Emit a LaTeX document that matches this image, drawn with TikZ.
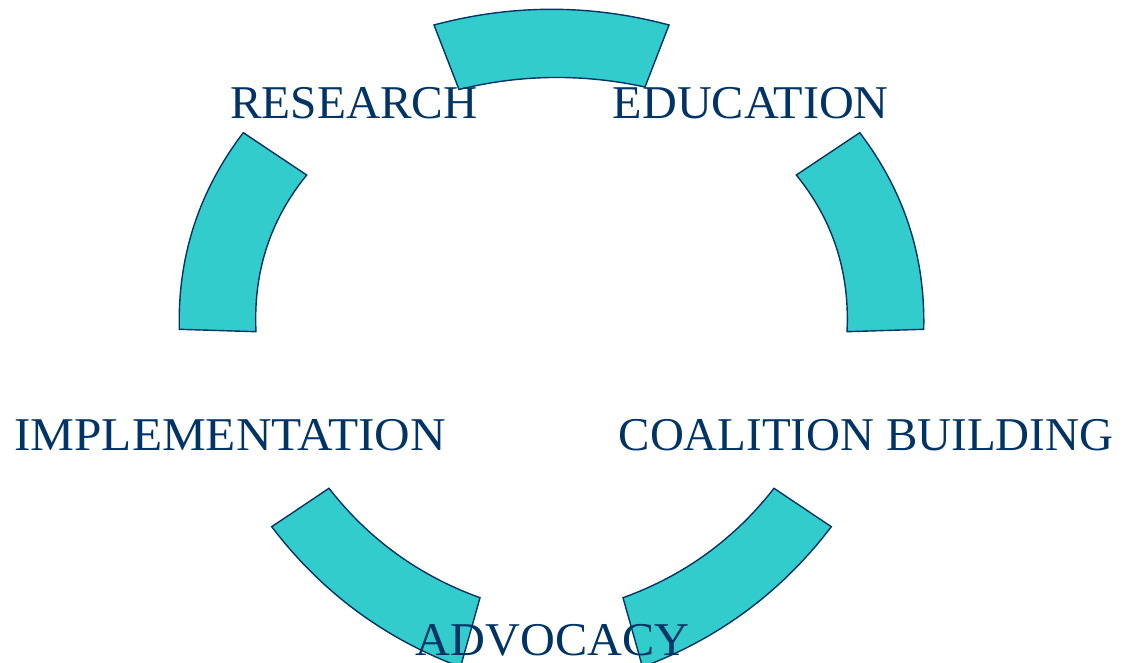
\documentclass[tikz,border=0pt]{standalone}
\usepackage{fontspec}
\setmainfont{Liberation Serif}
\begin{document}
\definecolor{ringfill}{RGB}{51,204,204}
\definecolor{navy}{RGB}{0,51,102}
\begin{tikzpicture}[x=1pt,y=-1pt,
  segment/.style={fill=ringfill,draw=navy,line width=1.4pt,line join=miter},
  label/.style={anchor=base,inner sep=0pt,text=navy,font=\fontsize{47}{50}\selectfont}]
\useasboundingbox (0,0) rectangle (1134,663);
\clip (0,0) rectangle (1134,663);

% ring segments
\path[segment] (434,25) .. controls (512.33,4.07) and (590.67,4.07) .. (669,25)
  -- (645,87) .. controls (582.33,73.5) and (520.33,74.33) .. (459,89.5) -- cycle;
\path[segment] (243.3,132.7) .. controls (198.9,190.9) and (177.57,256.43) .. (179.3,329.3)
  -- (256,331.7) .. controls (253.1,272.33) and (270,220.1) .. (306.7,175) -- cycle;
\path[segment] (859.7,132.7) .. controls (904.1,190.9) and (925.43,256.43) .. (923.7,329.3)
  -- (847,331.7) .. controls (849.9,272.33) and (833,220.1) .. (796.3,175) -- cycle;
\path[segment] (271.7,526.7) .. controls (321.11,591.67) and (384.05,638.43) .. (460.5,667)
  -- (480,597.7) .. controls (419.13,575.77) and (368.8,539.3) .. (329,488.3) -- cycle;
\path[segment] (831.3,526.7) .. controls (781.89,591.67) and (718.95,638.43) .. (642.5,667)
  -- (623,597.7) .. controls (683.87,575.77) and (734.2,539.3) .. (774,488.3) -- cycle;

% stage labels
\node[label,xscale=1.008] (research) at (354,118.3) {RESEARCH};
\node[label,xscale=1.026] (education) at (750.8,118.3) {EDUCATION};
\node[label] (coalition) at (866,450.3) {COALITION BUILDING};
\node[label,xscale=1.027] (advocacy) at (552.5,655) {ADVOCACY};
\node[label,xscale=1.049] (implementation) at (230,450.5) {IMPLEMENTATION};
\end{tikzpicture}
\end{document}
